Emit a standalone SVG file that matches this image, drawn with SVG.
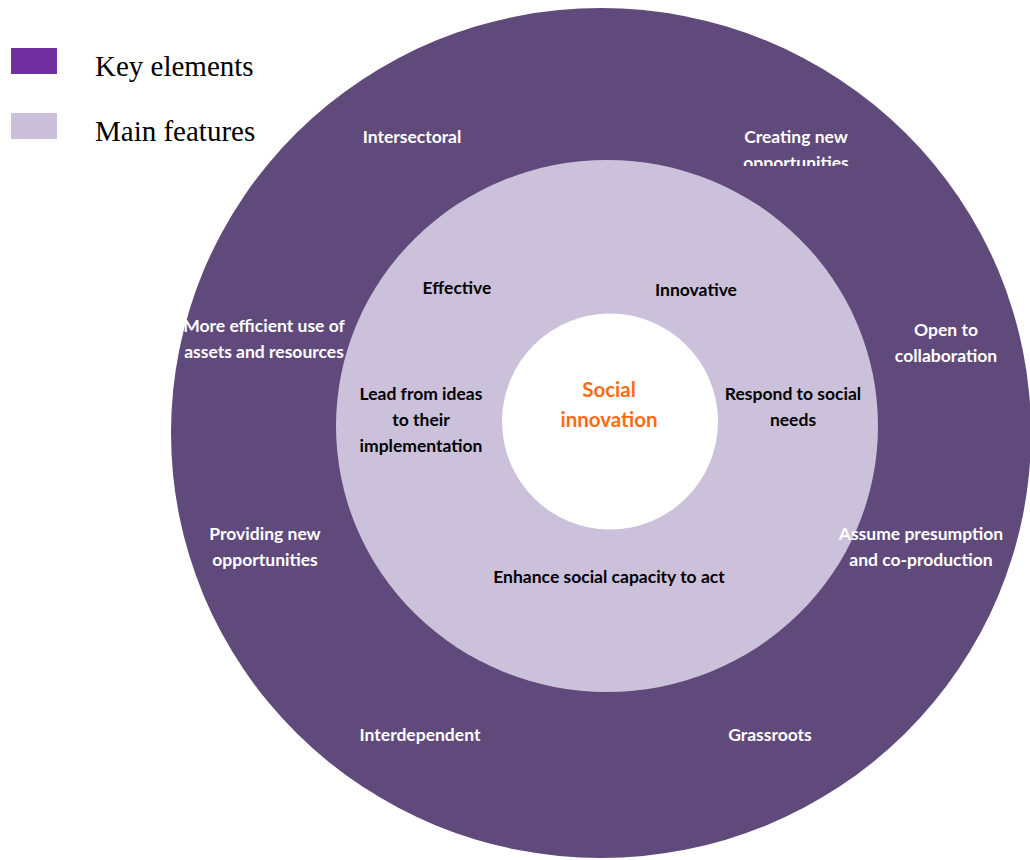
<svg xmlns="http://www.w3.org/2000/svg" width="1030" height="860" viewBox="0 0 1030 860">
<defs>
<style>
.k{font-family:"Lato","Open Sans",sans-serif;font-weight:bold;font-size:17.5px;text-anchor:middle;fill:#ffffff}
.f{font-family:"Lato","Open Sans",sans-serif;font-weight:bold;font-size:17.5px;text-anchor:middle;fill:#000000}
.c{font-family:"Lato","Open Sans",sans-serif;font-weight:bold;font-size:20.5px;text-anchor:middle;fill:#FF6A13}
.lg{font-family:"Liberation Serif",serif;font-size:29px;fill:#000000}
</style>
<clipPath id="clipCreating"><rect x="680" y="110" width="240" height="56"/></clipPath>
</defs>
<rect width="1030" height="860" fill="#ffffff"/>
<g id="legend">
<rect x="11" y="48" width="46" height="26" fill="#7030A0"/>
<text class="lg" x="95" y="76">Key elements</text>
<rect x="11" y="113" width="46" height="26" fill="#CBC0DC"/>
<text class="lg" x="95" y="141">Main features</text>
</g>
<g id="outer-ring">
<ellipse cx="601" cy="433" rx="430" ry="425" fill="#604A7B"/>
</g>
<g id="middle-ring">
<ellipse cx="607" cy="426" rx="271" ry="266" fill="#CCC1DA"/>
</g>
<g id="center">
<circle cx="610" cy="421.5" r="108" fill="#ffffff"/>
<text class="c" x="609" y="397">Social</text>
<text class="c" x="609" y="427">innovation</text>
</g>
<g id="key-elements">
<g id="intersectoral"><text class="k" x="412" y="143">Intersectoral</text></g>
<g id="creating"><g clip-path="url(#clipCreating)"><text class="k" x="796" y="143">Creating new</text><text class="k" x="796" y="169">opportunities</text></g></g>
<g id="efficient"><text class="k" x="264" y="332">More efficient use of</text><text class="k" x="264" y="358">assets and resources</text></g>
<g id="open"><text class="k" x="946" y="336">Open to</text><text class="k" x="946" y="362">collaboration</text></g>
<g id="providing"><text class="k" x="265" y="540">Providing new</text><text class="k" x="265" y="566">opportunities</text></g>
<g id="assume"><text class="k" x="921" y="540">Assume presumption</text><text class="k" x="921" y="566">and co-production</text></g>
<g id="interdependent"><text class="k" x="420" y="741">Interdependent</text></g>
<g id="grassroots"><text class="k" x="770" y="741">Grassroots</text></g>
</g>
<g id="main-features">
<g id="effective"><text class="f" x="457" y="294">Effective</text></g>
<g id="innovative"><text class="f" x="696" y="296">Innovative</text></g>
<g id="lead"><text class="f" x="421" y="400">Lead from ideas</text><text class="f" x="421" y="426">to their</text><text class="f" x="421" y="452">implementation</text></g>
<g id="respond"><text class="f" x="793" y="400">Respond to social</text><text class="f" x="793" y="426">needs</text></g>
<g id="enhance"><text class="f" x="609" y="583">Enhance social capacity to act</text></g>
</g>
<g id="connectors"/>
</svg>
